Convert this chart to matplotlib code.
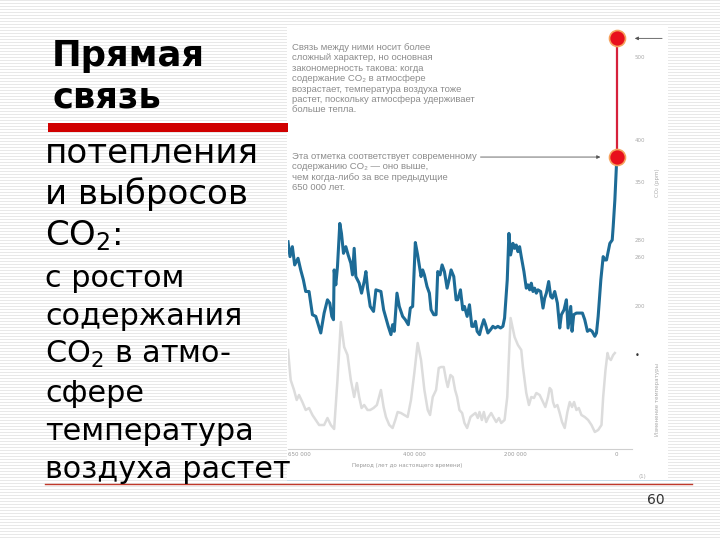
import numpy as np
import matplotlib.pyplot as plt
from matplotlib.patches import Rectangle

# CO2 (ppm) vs thousands of years before present
co2_years_k = [650, 646, 641.4, 636.8, 630.2, 624.9, 619.6, 615, 608.4, 601.7, 595.1, 585.2,
               578.6, 572, 567.4, 563.4, 560.1, 558.8, 555.5, 552.2, 547.6, 544.3, 540.3,
               535.7, 531.1, 525.8, 522.5, 519.2, 515.9, 509.3, 504.6, 499.4, 496, 492.8,
               487.5, 480.9, 476.2, 466.3, 461, 456.4, 451.8, 446.5, 443.2, 439.9, 434.6,
               430, 423.4, 418.1, 412.2, 408.2, 403.6, 398.3, 393.7, 387, 383.8, 380.4,
               375.2, 370.5, 367.2, 361.9, 357.3, 354, 349.4, 345.4, 340.8, 335.5, 330.9,
               327.6, 322.3, 317.7, 314.4, 309.1, 304.5, 301.2, 295.9, 291.3, 286.6, 282.7,
               279.4, 276.1, 271.4, 268.1, 262.9, 259.5, 254.9, 249.6, 245, 240.4, 235.1,
               229.8, 225.2, 221.9, 216.6, 213.3, 210, 205.4, 202.1, 198.8, 195.5, 192.2,
               188.9, 183.6, 179, 175.7, 172.3, 169.1, 165.7, 162.5, 159.1, 155.9, 150.6,
               145.9, 142.6, 139.3, 134.7, 130.7, 127.4, 122.8, 117.5, 112.9, 109.6, 104.3,
               99.7, 96.4, 91.1, 88.5, 85.2, 79.9, 73.3, 68, 63.4, 58.1, 53.5, 48.8, 43.5,
               40.2, 36.9, 31.6, 27, 23.7, 20.4, 17.1, 13.8, 9.1, 7.2, 3.9, 0]
co2_ppm = [278, 260, 272, 250, 258, 244, 232, 218, 218, 190, 188, 168,
           192, 208, 204, 188, 184, 244, 226, 248, 300, 288, 264,
           272, 262, 252, 238, 270, 236, 228, 216, 230, 242, 222,
           200, 194, 220, 218, 196, 186, 176, 166, 178, 170, 216,
           200, 188, 184, 178, 198, 200, 277, 262, 236, 244, 238,
           224, 216, 196, 190, 190, 242, 238, 250, 242, 222, 234,
           244, 236, 208, 208, 220, 196, 200, 188, 202, 176, 176,
           182, 170, 166, 174, 184, 178, 168, 172, 176, 174, 176,
           174, 176, 186, 232, 288, 262, 276, 270, 274, 266, 272,
           260, 242, 222, 226, 220, 228, 218, 222, 216, 220, 218,
           198, 210, 216, 230, 212, 210, 218, 204, 174, 190, 196,
           208, 174, 200, 170, 190, 192, 192, 192, 184, 170, 172, 170, 164,
           168, 188, 232, 260, 256, 256, 266, 276, 280, 296, 328, 380]

# temperature change (deg C) vs thousands of years before present
temp_years_k = [650, 644.7, 638.1, 632.8, 628.2, 621.6, 615, 608.4, 601.7, 595.1, 588.5,
                578.6, 572, 565.4, 558.8, 552.2, 547.6, 545.6, 539, 532.4, 525.8, 519.2,
                513.9, 509.3, 504.6, 499.4, 492.8, 487.5, 480.9, 474.3, 466.3, 461, 456.4,
                449.8, 443.2, 437.9, 433.3, 426.7, 420.1, 413.5, 406.9, 400.3, 393.7, 387,
                380.4, 373.8, 369.2, 363.9, 357.3, 352, 347.4, 342.1, 337.5, 334.2, 328.9,
                324.3, 319.7, 315.7, 311.1, 305.8, 301.2, 295.9, 289.3, 284.7, 279.4, 274.8,
                271.4, 266.8, 262.9, 258.2, 253.6, 248.3, 243, 238.4, 233.1, 228.5, 221.9,
                216.6, 213.3, 210, 202.1, 195.5, 188.9, 185.6, 179, 173.7, 169.1, 163.8,
                159.1, 152.5, 145.9, 141.3, 136, 132.7, 129.4, 126.1, 122.8, 117.5, 112.9,
                108.3, 103, 97.7, 93.1, 88.5, 84.5, 79.9, 75.2, 70, 63.4, 56.7, 50.1, 43.5,
                36.9, 30.3, 27, 22.4, 18.4, 15.8, 11.8, 7.2, 3.9]
temp_c = [0.3, -2.7, -3.7, -4.7, -4.2, -4.9, -5.7, -5.5, -6.2, -6.7, -7.2,
          -7.2, -6.5, -7.2, -7.6, -2.7, 1.3, 3.1, 0.6, -0.2, -2.7, -4.4,
          -3.0, -4.4, -5.5, -5.2, -5.7, -5.7, -5.5, -5.2, -3.7, -5.4, -6.4,
          -7.2, -7.5, -6.7, -5.9, -6.0, -6.2, -6.4, -4.7, -2.0, 1.0, -0.7,
          -3.7, -5.7, -6.2, -4.4, -3.7, -1.5, -1.4, -1.4, -2.7, -3.4, -2.2,
          -2.4, -3.7, -4.4, -5.7, -6.0, -7.0, -7.5, -6.4, -6.2, -6.0, -6.5,
          -5.9, -6.7, -5.9, -6.9, -6.4, -6.0, -6.5, -6.9, -6.5, -7.0, -6.7,
          -4.4, -0.4, 3.5, 1.6, 0.8, 0.3, -1.4, -4.0, -5.2, -4.4, -4.5,
          -4.0, -4.2, -4.9, -5.4, -4.4, -3.5, -3.7, -4.9, -5.4, -5.2, -6.0,
          -6.9, -7.5, -5.9, -4.9, -5.4, -4.9, -5.7, -5.5, -6.2, -6.4, -6.7, -7.2, -7.9,
          -7.7, -7.2, -4.4, -1.7, 0.0, -0.5, -0.7, -0.2, 0.0]

now_co2 = 380
future_co2 = 523

x_ticks_k = [650, 400, 200, 0]
x_tick_labels = ['650 000', '400 000', '200 000', '0']
co2_ticks = [200, 260, 280, 350, 400, 500]

fig = plt.figure(figsize=(7.2, 5.4), dpi=100)

# slide background (faint stripes), in pixel coords
bg = fig.add_axes([0, 0, 1, 1], zorder=-5)
stripes = np.ones((540, 1))
stripes[::3] = 0.91
bg.imshow(stripes, cmap='gray', vmin=0, vmax=1, extent=(0, 720, 540, 0),
          aspect='auto', interpolation='nearest')
bg.set_xlim(0, 720)
bg.set_ylim(540, 0)
bg.axis('off')
bg.add_patch(Rectangle((287, 27), 381, 452, facecolor='white', edgecolor='none'))
bg.add_patch(Rectangle((48, 123), 240, 9, facecolor='#d00000', edgecolor='none'))
bg.plot([287, 692], [480, 480], color='#c5dce8', lw=0.7)
bg.plot([45, 692], [484, 484], color='#c0392b', lw=1.0)

bg.text(52, 66, 'Прямая', fontsize=25.5, fontweight='bold', va='baseline')
bg.text(52, 108, 'связь', fontsize=25.5, fontweight='bold', va='baseline')
for txt, yb in zip(['потепления', 'и выбросов', 'CO$_{2}$:'], [163, 204, 245]):
    bg.text(45, yb, txt, fontsize=24.5, va='baseline')
for txt, yb in zip(['с ростом', 'содержания', 'CO$_{2}$ в атмо-', 'сфере', 'температура',
                    'воздуха растет'], [287, 325, 363, 402, 440, 478]):
    bg.text(45, yb, txt, fontsize=21.8, va='baseline')

note1 = ('Связь между ними носит более\n'
         'сложный характер, но основная\n'
         'закономерность такова: когда\n'
         'содержание CO₂ в атмосфере\n'
         'возрастает, температура воздуха тоже\n'
         'растет, поскольку атмосфера удерживает\n'
         'больше тепла.')
note2 = ('Эта отметка соответствует современному\n'
         'содержанию CO₂ — оно выше,\n'
         'чем когда-либо за все предыдущие\n'
         '650 000 лет.')
bg.text(292, 43, note1, fontsize=6.8, color='#8c8c8c', va='top', linespacing=1.2,
        family=['Liberation Sans', 'DejaVu Sans'])
bg.text(292, 152, note2, fontsize=6.8, color='#8c8c8c', va='top', linespacing=1.2,
        family=['Liberation Sans', 'DejaVu Sans'])
bg.text(656, 504, '60', fontsize=10, color='#333333', ha='center', va='baseline')
bg.text(642, 478, '(1)', fontsize=4, color='#aaaaaa', ha='center', va='baseline')
bg.text(657, 183, 'CO₂ (ppm)', fontsize=4, color='#aaaaaa', rotation=90, ha='center', va='center')
bg.text(657, 400, 'Изменение температуры', fontsize=4, color='#aaaaaa', rotation=90,
        ha='center', va='center')
bg.text(637, 355, '•', fontsize=6, color='#333333', ha='center', va='center')

# chart
ax = fig.add_axes([288 / 720, 91 / 540, 344 / 720, 421 / 540])
ax2 = ax.twinx()
ax.set_zorder(ax2.get_zorder() + 1)
ax.patch.set_visible(False)

ax2.plot(temp_years_k, temp_c, color='#dcdcdc', lw=1.8)
ax2.set_ylim(-9.6, 32.5)
ax2.axis('off')

ax.plot(co2_years_k, co2_ppm, color='#1d6b96', lw=2.2, solid_joinstyle='round')
ax.plot([0, 0], [now_co2, future_co2], color='#d6213b', lw=1.6)
ax.plot([0, 0], [now_co2, future_co2], 'o', ms=11.5, mfc='#e8101c', mec='#f6a25e',
        mew=1.2, clip_on=False)
ax.annotate('', xy=(27, now_co2), xytext=(275, now_co2),
            arrowprops=dict(arrowstyle='-|>', color='#555555', lw=0.6, mutation_scale=5))
ax.annotate('', xy=(-30, future_co2), xytext=(-95, future_co2), annotation_clip=False,
            arrowprops=dict(arrowstyle='-|>', color='#555555', lw=0.6, mutation_scale=5))

ax.set_xlim(650, -30)
ax.set_ylim(28.2, 535.5)
for s in ['top', 'left', 'right']:
    ax.spines[s].set_visible(False)
ax.spines['bottom'].set_color('#cfcfcf')
ax.spines['bottom'].set_linewidth(0.8)
ax.set_xticks(x_ticks_k, x_tick_labels)
ax.get_xticklabels()[0].set_horizontalalignment('left')
ax.tick_params(axis='x', length=0, pad=2, labelsize=4, labelcolor='#999999')
ax.yaxis.tick_right()
ax.set_yticks(co2_ticks)
ax.tick_params(axis='y', length=0, pad=2, labelsize=4, labelcolor='#aaaaaa')
ax.text(0.346, -0.04, 'Период (лет до настоящего времени)', transform=ax.transAxes,
        fontsize=4, color='#999999', ha='center', va='center')

fig.savefig('out.png', dpi=100)
